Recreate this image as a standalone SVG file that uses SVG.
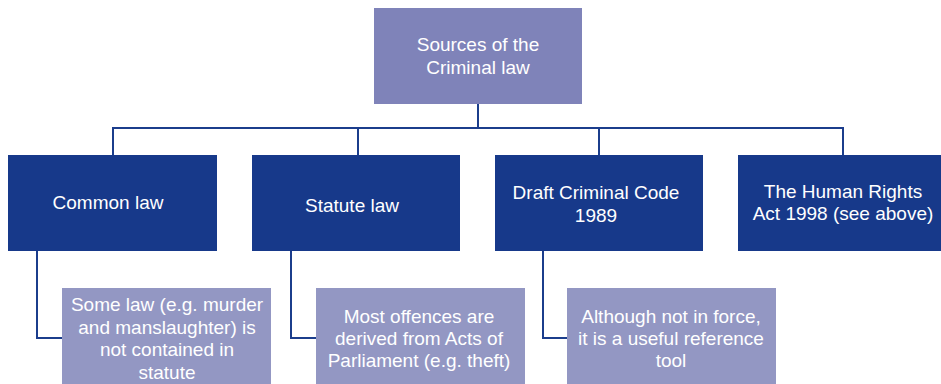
<svg xmlns="http://www.w3.org/2000/svg" width="941" height="384" viewBox="0 0 941 384">
<style>
text{font-family:"Liberation Sans",Arial,sans-serif;font-size:19px;fill:#ffffff;text-anchor:middle}
.top{fill:#7f83b9}
.mid{fill:#17398a}
.low{fill:#9397c3}
.conn{fill:none;stroke:#1b3d8c;stroke-width:2}
</style>
<rect width="941" height="384" fill="#ffffff"/>
<g id="connectors">
<path class="conn" d="M478,104 V128 M113,155 V128 H843 V155 M358,128 V155 M599,128 V155"/>
<path class="conn" d="M37,251 V338 H62"/>
<path class="conn" d="M291,251 V338 H316"/>
<path class="conn" d="M543,251 V338 H567"/>
</g>
<g id="root">
<rect class="top" x="374" y="8" width="208" height="96"/>
<text x="478" y="51">Sources of the</text>
<text x="478" y="74">Criminal law</text>
</g>
<g id="common">
<rect class="mid" x="8" y="155" width="209" height="96"/>
<text x="108" y="209">Common law</text>
</g>
<g id="statute">
<rect class="mid" x="252" y="155" width="208" height="96"/>
<text x="352" y="212">Statute law</text>
</g>
<g id="draft">
<rect class="mid" x="495" y="155" width="208" height="96"/>
<text x="596" y="199">Draft Criminal Code</text>
<text x="596" y="222">1989</text>
</g>
<g id="hra">
<rect class="mid" x="738" y="155" width="203" height="96"/>
<text x="843" y="198">The Human Rights</text>
<text x="843" y="220">Act 1998 (see above)</text>
</g>
<g id="common-note">
<rect class="low" x="62" y="288" width="209" height="96"/>
<text x="167" y="311">Some law (e.g. murder</text>
<text x="167" y="334">and manslaughter) is</text>
<text x="167" y="356">not contained in</text>
<text x="167" y="379">statute</text>
</g>
<g id="statute-note">
<rect class="low" x="316" y="288" width="209" height="96"/>
<text x="419" y="323">Most offences are</text>
<text x="419" y="345">derived from Acts of</text>
<text x="419" y="367">Parliament (e.g. theft)</text>
</g>
<g id="draft-note">
<rect class="low" x="567" y="288" width="209" height="96"/>
<text x="671" y="323">Although not in force,</text>
<text x="671" y="345">it is a useful reference</text>
<text x="671" y="367">tool</text>
</g>
</svg>
